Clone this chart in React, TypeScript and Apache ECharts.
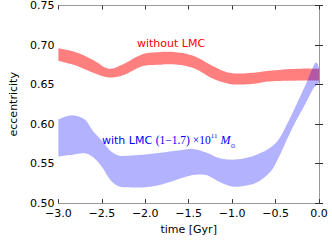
import React, { useEffect, useRef } from "react";
import * as echarts from "echarts";

// time grid [Gyr] and band edges (eccentricity)
const redTime = [-3.0, -2.8, -2.6, -2.42, -2.25, -2.04, -1.85, -1.65, -1.44, -1.25, -1.11, -0.97, -0.75, -0.57, -0.25, 0.0];
const redHigh = [0.696, 0.691, 0.681, 0.670, 0.676, 0.688, 0.691, 0.691, 0.686, 0.675, 0.6675, 0.664, 0.665, 0.6675, 0.670, 0.670];
const redLow = [0.680, 0.674, 0.665, 0.659, 0.662, 0.673, 0.675, 0.6755, 0.6705, 0.659, 0.653, 0.650, 0.651, 0.654, 0.655, 0.655];

const blueTime = [-3.0, -2.85, -2.7, -2.6, -2.5, -2.4, -2.3, -2.2, -2.0, -1.8, -1.6, -1.45, -1.3, -1.15, -1.0, -0.85, -0.7, -0.55, -0.45, -0.35, -0.25, -0.15, -0.07, -0.03, 0.0];
const blueHigh = [0.606, 0.611, 0.606, 0.591, 0.579, 0.566, 0.560, 0.560, 0.5615, 0.564, 0.567, 0.5685, 0.564, 0.557, 0.555, 0.557, 0.562, 0.571, 0.583, 0.604, 0.627, 0.651, 0.672, 0.678, 0.671];
const blueLow = [0.559, 0.561, 0.563, 0.558, 0.546, 0.529, 0.521, 0.520, 0.520, 0.524, 0.531, 0.5355, 0.5355, 0.527, 0.521, 0.522, 0.527, 0.541, 0.561, 0.585, 0.607, 0.627, 0.644, 0.649, 0.652];

const xTicks = { min: -3.0, max: 0.0, interval: 0.5 };
const yTicks = { min: 0.5, max: 0.75, interval: 0.05 };

const labelWithout = "without LMC";

function catmull(pts: number[][], steps = 8): number[][] {
  const out: number[][] = [];
  for (let i = 0; i < pts.length - 1; i++) {
    const p0 = pts[Math.max(0, i - 1)];
    const p1 = pts[i];
    const p2 = pts[i + 1];
    const p3 = pts[Math.min(pts.length - 1, i + 2)];
    for (let s = 0; s < steps; s++) {
      const t = s / steps;
      const t2 = t * t;
      const t3 = t2 * t;
      const f = (a: number, b: number, c: number, d: number) =>
        0.5 * (2 * b + (-a + c) * t + (2 * a - 5 * b + 4 * c - d) * t2 + (-a + 3 * b - 3 * c + d) * t3);
      out.push([f(p0[0], p1[0], p2[0], p3[0]), f(p0[1], p1[1], p2[1], p3[1])]);
    }
  }
  out.push(pts[pts.length - 1]);
  return out;
}

function bandSeries(T: number[], lo: number[], hi: number[], color: string) {
  return {
    type: "custom",
    clip: true,
    silent: true,
    data: T.map((t, i) => [t, lo[i], hi[i]]),
    encode: { x: 0, y: [1, 2] },
    renderItem: (params: any, api: any) => {
      if (params.dataIndex !== 0) return null;
      const top = catmull(T.map((t, i) => api.coord([t, hi[i]])));
      const bot = catmull(T.map((t, i) => api.coord([t, lo[i]]))).reverse();
      return {
        type: "polygon",
        shape: { points: top.concat(bot) },
        style: { fill: color, stroke: "none" },
      };
    },
  };
}

const fmtX = (v: number) => {
  const s = Math.abs(v).toFixed(1);
  return v < -1e-9 ? "\u2212" + s : s;
};

export default function App() {
  const ref = useRef<HTMLDivElement>(null);
  useEffect(() => {
    if (!ref.current) return;
    const chart = echarts.init(ref.current, null, { renderer: "svg" });
    const frame = { show: true, lineStyle: { color: "#999", width: 1 } };
    const tick = { show: true, inside: true, length: 4, lineStyle: { color: "#333", width: 1 } };
    const labelFont = { fontFamily: "DejaVu Sans", fontSize: 11, color: "#000" };
    chart.setOption({
      animation: false,
      grid: { left: 41, right: 13, top: 5, bottom: 33, containLabel: false },
      xAxis: [
        {
          type: "value",
          position: "bottom",
          ...xTicks,
          axisLine: frame,
          axisTick: tick,
          splitLine: { show: false },
          axisLabel: { ...labelFont, margin: 5, formatter: fmtX },
          name: "time [Gyr]",
          nameLocation: "middle",
          nameGap: 19,
          nameTextStyle: { fontFamily: "DejaVu Sans", fontSize: 11, color: "#000" },
        },
        {
          type: "value",
          position: "top",
          ...xTicks,
          axisLine: frame,
          axisTick: tick,
          splitLine: { show: false },
          axisLabel: { show: false },
        },
      ],
      yAxis: [
        {
          type: "value",
          position: "left",
          ...yTicks,
          axisLine: frame,
          axisTick: tick,
          splitLine: { show: false },
          axisLabel: { ...labelFont, margin: 4, formatter: (v: number) => v.toFixed(2) },
          name: "eccentricity",
          nameLocation: "middle",
          nameGap: 28,
          nameTextStyle: { fontFamily: "DejaVu Sans", fontSize: 11, color: "#000" },
        },
        {
          type: "value",
          position: "right",
          ...yTicks,
          axisLine: frame,
          axisTick: tick,
          splitLine: { show: false },
          axisLabel: { show: false },
        },
      ],
      series: [
        bandSeries(redTime, redLow, redHigh, "rgba(255,0,0,0.5)"),
        bandSeries(blueTime, blueLow, blueHigh, "rgba(0,0,255,0.3)"),
      ],
      graphic: [
        {
          type: "text",
          x: 137,
          y: 43,
          style: {
            text: labelWithout,
            fill: "#ff0000",
            font: "11px 'DejaVu Sans'",
            verticalAlign: "middle",
          },
        },
        {
          type: "text",
          x: 102,
          y: 140,
          style: {
            text: "{a|with LMC }{b|(1\u22121.7) \u00d710}{sup|11}{m| M}{sub|\u2299}",
            verticalAlign: "middle",
            rich: {
              a: { fontFamily: "DejaVu Sans", fontSize: 11, fill: "#0000ff", lineHeight: 16 },
              b: { fontFamily: "Liberation Serif", fontSize: 11.5, fill: "#0000ff", lineHeight: 16 },
              sup: { fontFamily: "Liberation Serif", fontSize: 7, fill: "#0000ff", lineHeight: 7, verticalAlign: "top" },
              m: { fontFamily: "Liberation Serif", fontStyle: "italic", fontSize: 12, fill: "#0000ff", lineHeight: 16 },
              sub: { fontFamily: "DejaVu Sans", fontSize: 6, fill: "#0000ff", lineHeight: 7, verticalAlign: "bottom" },
            },
          },
        },
      ],
    });
    return () => chart.dispose();
  }, []);
  return <div ref={ref} style={{ position: "absolute", left: 0, top: 0, width: 332, height: 240 }} />;
}
